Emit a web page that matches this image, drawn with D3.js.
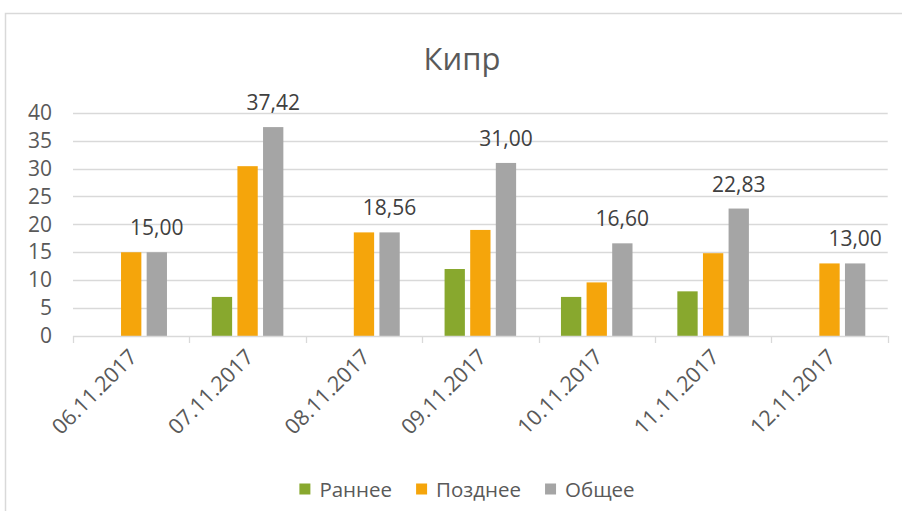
<!DOCTYPE html>
<html>
<head>
<meta charset="utf-8">
<script src="https://cdn.jsdelivr.net/npm/d3@7"></script>
<style>
  html, body { margin: 0; padding: 0; background: #ffffff; }
  svg { display: block; font-family: "Open Sans", "Noto Sans", sans-serif; }
</style>
</head>
<body>
<svg id="chart" width="902" height="521"></svg>
<script>
const title = "Кипр";
const categories = ["06.11.2017", "07.11.2017", "08.11.2017", "09.11.2017", "10.11.2017", "11.11.2017", "12.11.2017"];
const seriesNames = ["Раннее", "Позднее", "Общее"];
const seriesColors = ["#88a82e", "#f5a50b", "#a5a5a5"];
const early = [null, 7, null, 12, 7, 8, null];
const late = [15, 30.42, 18.56, 19, 9.6, 14.83, 13];
const total = [15, 37.42, 18.56, 31, 16.6, 22.83, 13];
const yTicks = [0, 5, 10, 15, 20, 25, 30, 35, 40];
const labelSeries = "Общее";

const seriesValues = [early, late, total];

const svg = d3.select("#chart");
const W = 902, H = 521;
const plot = { left: 73, right: 887.7, top: 112.7, bottom: 336 };

// frame
svg.append("path")
  .attr("d", `M5.5,511 V13.5 H${W}`)
  .attr("fill", "none").attr("stroke", "#d9d9d9").attr("stroke-width", 1.5);

// title
svg.append("text")
  .attr("x", 462).attr("y", 70)
  .attr("text-anchor", "middle")
  .attr("font-size", 31).attr("fill", "#595959")
  .text(title);

const y = d3.scaleLinear().domain([0, 40]).range([plot.bottom, plot.top]);
const x0 = d3.scaleBand().domain(categories).range([plot.left, plot.right]).paddingInner(0).paddingOuter(0);
const x1 = d3.scaleBand().domain(seriesNames).range([0, x0.bandwidth()]).paddingInner(0.207).paddingOuter(0.875);

// gridlines
svg.append("g").selectAll("line").data(yTicks.filter(t => t > 0)).join("line")
  .attr("x1", plot.left).attr("x2", plot.right)
  .attr("y1", d => Math.round(y(d)) + 0.5).attr("y2", d => Math.round(y(d)) + 0.5)
  .attr("stroke", "#d9d9d9").attr("stroke-width", 1.3);

// y axis labels
const yAxis = d3.axisLeft(y).tickValues(yTicks).tickSize(0).tickPadding(0).tickFormat(d3.format("d"));
const yg = svg.append("g").attr("transform", `translate(52,0)`).call(yAxis);
yg.select(".domain").remove();
yg.selectAll("text").attr("font-size", 21).attr("fill", "#595959");
yg.attr("font-family", null);

// bars
const rows = categories.map((c, i) => ({ cat: c, vals: seriesNames.map((s, j) => ({ s, j, v: seriesValues[j][i] })) }));
const groups = svg.append("g").selectAll("g").data(rows).join("g")
  .attr("transform", d => `translate(${x0(d.cat)},0)`);
groups.selectAll("rect").data(d => d.vals.filter(v => v.v != null)).join("rect")
  .attr("x", d => x1(d.s)).attr("width", x1.bandwidth())
  .attr("y", d => y(d.v)).attr("height", d => y(0) - y(d.v))
  .attr("fill", d => seriesColors[d.j]);

// data labels
const fmt = v => d3.format(".2f")(v).replace(".", ",");
const li = seriesNames.indexOf(labelSeries);
groups.append("text")
  .attr("x", x1(labelSeries) + x1.bandwidth() / 2)
  .attr("y", d => y(seriesValues[li][categories.indexOf(d.cat)]) - 17)
  .attr("text-anchor", "middle")
  .attr("font-size", 21).attr("fill", "#404040")
  .text(d => fmt(seriesValues[li][categories.indexOf(d.cat)]));

// x axis
const xAxis = d3.axisBottom(x0).tickSize(0).tickFormat(d => d);
const xg = svg.append("g").attr("transform", `translate(0,${plot.bottom})`).call(xAxis);
xg.attr("font-family", null);
xg.select(".domain").remove();
xg.selectAll(".tick line").remove();
svg.append("line").attr("x1", plot.left).attr("x2", plot.right)
  .attr("y1", plot.bottom + 0.5).attr("y2", plot.bottom + 0.5)
  .attr("stroke", "#d9d9d9").attr("stroke-width", 1.3);
const bounds = categories.map(c => x0(c)).concat([x0(categories[categories.length - 1]) + x0.bandwidth()]);
svg.append("g").selectAll("line").data(bounds).join("line")
  .attr("x1", d => Math.round(d) + 0.5).attr("x2", d => Math.round(d) + 0.5)
  .attr("y1", plot.bottom).attr("y2", plot.bottom + 7)
  .attr("stroke", "#d9d9d9").attr("stroke-width", 1.3);
xg.selectAll(".tick text")
  .attr("font-size", 21.5).attr("fill", "#595959")
  .attr("text-anchor", "end")
  .attr("y", 0).attr("dy", "0.35em")
  .attr("transform", `translate(2,17) rotate(-45)`);

// legend
const legendItems = seriesNames.map((s, j) => ({ s, c: seriesColors[j] }));
const lg = svg.append("g");
let lx = 0;
const items = lg.selectAll("g").data(legendItems).join("g");
items.append("rect").attr("width", 11).attr("height", 11).attr("y", -13.5).attr("fill", d => d.c);
items.append("text").attr("x", 20).attr("y", 0).attr("font-size", 20.5).attr("fill", "#595959").text(d => d.s);
items.each(function () {
  const g = d3.select(this);
  g.attr("transform", `translate(${lx},0)`);
  lx += this.getBBox().width + 24;
});
const totalW = lx - 24;
lg.attr("transform", `translate(${467 - totalW / 2},497)`);
</script>
</body>
</html>
